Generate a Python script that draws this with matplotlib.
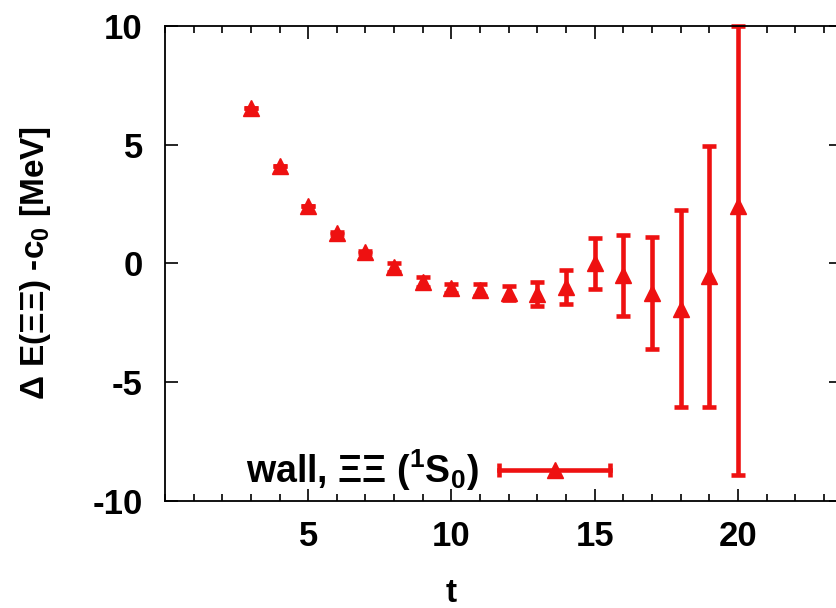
import matplotlib
matplotlib.use("Agg")
import matplotlib.pyplot as plt
from matplotlib.lines import Line2D
from matplotlib.legend_handler import HandlerBase
from matplotlib.ticker import MultipleLocator

# data
t = [3, 4, 5, 6, 7, 8, 9, 10, 11, 12, 13, 14, 15, 16, 17, 18, 19, 20]
dE = [6.55, 4.1, 2.4, 1.28, 0.47, -0.17, -0.78, -1.05, -1.13, -1.25,
      -1.3, -1.0, 0.0, -0.5, -1.25, -1.9, -0.55, 2.4]
err_lo = [0.0, 0.0, 0.0, 0.05, 0.05, 0.18, 0.2, 0.2, 0.25, 0.28,
          0.5, 0.72, 1.07, 1.7, 2.35, 4.15, 5.5, 11.3]
err_hi = [0.0, 0.0, 0.0, 0.05, 0.05, 0.18, 0.2, 0.2, 0.25, 0.28,
          0.5, 0.72, 1.07, 1.7, 2.35, 4.15, 5.5, 7.6]
xticks = [5, 10, 15, 20]
label = "wall, ΞΞ ($^1$S$_0$)"

plt.rcParams["font.family"] = ["Liberation Sans", "DejaVu Sans"]
plt.rcParams["font.weight"] = "bold"
plt.rcParams["axes.unicode_minus"] = False
plt.rcParams["mathtext.fontset"] = "custom"
plt.rcParams["mathtext.rm"] = "Liberation Sans:bold"
plt.rcParams["mathtext.it"] = "Liberation Sans:bold"

red = "#ee1111"


# gnuplot style key: horizontal bar with caps, marker in the middle
class HorizErrHandler(HandlerBase):
    def create_artists(self, legend, orig_handle, xdescent, ydescent,
                       width, height, fontsize, trans):
        y = (height - ydescent) / 2
        x0, x1 = -xdescent, width - xdescent
        bar = Line2D([x0, x1], [y, y], color=red, lw=3.3, transform=trans)
        caps = Line2D([x0, x1], [y, y], ls="", marker="|", ms=10, mew=3.3,
                      color=red, transform=trans)
        mk = Line2D([(x0 + x1) / 2], [y], ls="", marker="^", ms=12,
                    color=red, transform=trans)
        return [bar, caps, mk]


fig = plt.figure(figsize=(8.37, 6.08), dpi=100)
ax = fig.add_axes([0.1971, 0.176, 0.8077, 0.7817])

eb = ax.errorbar(t, dE, yerr=[err_lo, err_hi], fmt="^", color=red,
                 ecolor=red, markersize=12, elinewidth=3.3, capsize=5,
                 capthick=3.3, clip_on=False)

ax.set_xlim(0, 23.6)
ax.set_ylim(-10, 10)
ax.set_xticks(xticks)
ax.xaxis.set_minor_locator(MultipleLocator(1))
ax.yaxis.set_major_locator(MultipleLocator(5))

ax.tick_params(which="both", direction="in", top=True, right=True,
               labelsize=25, width=1.2)
ax.tick_params(axis="x", which="major", length=9, pad=14)
ax.tick_params(axis="y", which="major", length=9, pad=16)
ax.tick_params(which="minor", length=5)
for s in ax.spines.values():
    s.set_linewidth(1.3)

ax.set_xlabel("t", fontsize=24, fontweight="bold")
ax.xaxis.set_label_coords(0.423, -0.163)
ax.set_ylabel("Δ E(ΞΞ) -c$_0$ [MeV]", fontsize=24, fontweight="bold")
ax.yaxis.set_label_coords(-0.165, 0.5)

ax.legend([eb], [label], handler_map={type(eb): HorizErrHandler()},
          loc="center left", bbox_to_anchor=(0.12, 0.065),
          frameon=False, fontsize=27, markerfirst=False,
          handlelength=2.95, handletextpad=0.55, borderpad=0,
          borderaxespad=0)

fig.savefig("out.png", dpi=100)
